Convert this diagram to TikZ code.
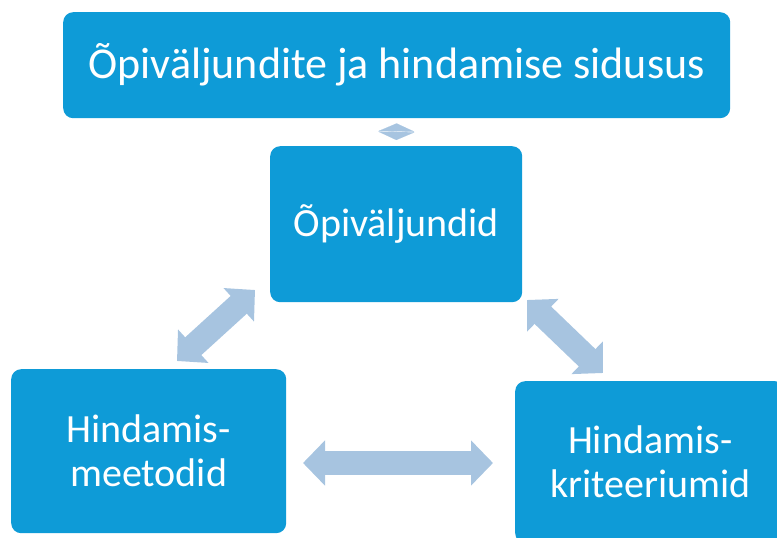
\documentclass[tikz,border=0pt]{standalone}
\usepackage{fontspec}
\setmainfont{Carlito}
\usetikzlibrary{arrows.meta}
\definecolor{boxblue}{RGB}{14,155,215}
\definecolor{arrblue}{RGB}{167,196,224}
\begin{document}
\begin{tikzpicture}[x=1pt,y=-1pt,
  box/.style={fill=boxblue, rounded corners=10pt, text=white, font=\fontsize{40}{44}\selectfont, align=center, inner sep=0pt, anchor=north west},
  fat/.style={arrblue, line width=24pt, {Triangle[length=22pt,width=44pt]}-{Triangle[length=22pt,width=44pt]}}]
\useasboundingbox (0,0) rectangle (777,538);
\clip (0,0) rectangle (777,538);
\node[box, font=\fontsize{44}{50}\selectfont, minimum width=667pt, minimum height=106pt] (top) at (63,12) {Õpiväljundite ja hindamise sidusus};
\node[box, minimum width=252pt, minimum height=156pt] (mid) at (270,146) {Õpiväljundid};
\node[box, minimum width=275pt, minimum height=164pt] (left) at (11,369) {Hindamis-\\meetodid};
\node[box, minimum width=270pt, minimum height=162pt] (right) at (515,381) {Hindamis-\\kriteeriumid};
\coordinate (l1) at (177,361);
\coordinate (l2) at (255,290);
\coordinate (r1) at (527,300);
\coordinate (r2) at (603,373);
\coordinate (h1) at (303,463);
\coordinate (h2) at (493,463);
\draw[fat] (l1) -- (l2);
\draw[fat] (r1) -- (r2);
\draw[fat] (h1) -- (h2);
\draw[arrblue, line width=0.1pt, shorten <=5pt, shorten >=6pt, {Triangle[length=8pt,width=36pt]}-{Triangle[length=8pt,width=36pt]}] (top.south) -- (mid.north);
\end{tikzpicture}
\end{document}
